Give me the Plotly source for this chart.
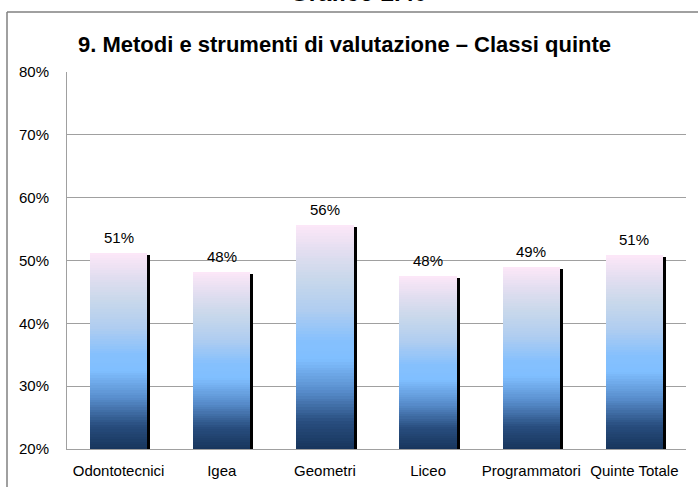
import plotly.graph_objects as go

# Categories and shares (fraction of respondents)
categories = ["Odontotecnici", "Igea", "Geometri", "Liceo", "Programmatori", "Quinte Totale"]
values = [0.512, 0.482, 0.557, 0.476, 0.490, 0.508]

y_ticks = [0.2, 0.3, 0.4, 0.5, 0.6, 0.7, 0.8]

chart_title = "9. Metodi e strumenti di valutazione \u2013 Classi quinte"
page_title = "Grafico 2.40"

FONT = "Arial, Liberation Sans, sans-serif"
W, H = 698, 487
ML, MR, MT, MB = 67, 12, 72, 38
plot_w = W - ML - MR
plot_h = H - MT - MB

y_min, y_max = 0.2, 0.8
bar_w = 0.555
n_cat = len(categories)
px_x = n_cat / plot_w            # data units per pixel (x)
px_y = (y_max - y_min) / plot_h  # data units per pixel (y)

# Vertical gradient (bottom -> top) used to fill each bar
stops = [
    (0.00, (23, 53, 92)),
    (0.12, (40, 77, 126)),
    (0.26, (88, 141, 204)),
    (0.40, (128, 191, 255)),
    (0.48, (133, 192, 253)),
    (0.62, (176, 205, 240)),
    (0.76, (201, 216, 235)),
    (0.88, (226, 222, 240)),
    (1.00, (253, 232, 248)),
]


def grad(t):
    for (t0, c0), (t1, c1) in zip(stops[:-1], stops[1:]):
        if t <= t1:
            f = (t - t0) / (t1 - t0) if t1 > t0 else 0
            return "rgb(%d,%d,%d)" % tuple(round(a + (b - a) * f) for a, b in zip(c0, c1))
    return "rgb(%d,%d,%d)" % stops[-1][1]


N = 80
xs, bases, heights, colors = [], [], [], []
for i, v in enumerate(values):
    seg = (v - y_min) / N
    for k in range(N):
        xs.append(i)
        bases.append(y_min + k * seg)
        heights.append(seg * 1.02 if k < N - 1 else seg)
        colors.append(grad((k + 0.5) / N))

fig = go.Figure()

# drop shadow behind each bar
fig.add_trace(go.Bar(
    x=list(range(n_cat)),
    y=[v - y_min - 2 * px_y for v in values],
    base=[y_min] * n_cat,
    width=bar_w,
    offset=-bar_w / 2 + 3 * px_x,
    marker=dict(color="black", line=dict(width=0)),
    hoverinfo="skip",
    showlegend=False,
))

# gradient-filled bars
fig.add_trace(go.Bar(
    x=xs, y=heights, base=bases, width=bar_w,
    marker=dict(color=colors, line=dict(width=0)),
    hoverinfo="skip", showlegend=False,
))

# value labels above the bars
value_labels = [
    dict(text=f"{v:.0%}", x=i, y=v, xref="x", yref="y",
         xanchor="center", yanchor="bottom", yshift=5, showarrow=False,
         font=dict(family=FONT, size=15, color="black"))
    for i, v in enumerate(values)
]

fig.update_layout(
    width=W, height=H,
    margin=dict(l=ML, r=MR, t=MT, b=MB, autoexpand=False),
    paper_bgcolor="white", plot_bgcolor="white",
    barmode="overlay", bargap=0,
    font=dict(family=FONT, size=15, color="black"),
    xaxis=dict(
        range=[-0.5, n_cat - 0.5],
        tickvals=list(range(n_cat)), ticktext=categories,
        showgrid=False, zeroline=False,
        showline=True, linecolor="#a0a0a0", linewidth=1,
        ticks="", ticklabelstandoff=8, automargin=False,
        tickfont=dict(family=FONT, size=15, color="black"),
        fixedrange=True,
    ),
    yaxis=dict(
        range=[y_min, y_max],
        tickvals=y_ticks, tickformat=".0%",
        showgrid=True, gridcolor="#a0a0a0", gridwidth=1,
        zeroline=False,
        showline=True, linecolor="#a0a0a0", linewidth=1,
        ticks="", ticklabelstandoff=14, automargin=False,
        tickfont=dict(family=FONT, size=15, color="black"),
        fixedrange=True,
    ),
    annotations=value_labels + [
        dict(text=f"<b>{chart_title}</b>", xref="paper", yref="paper",
             x=(344 - ML) / plot_w, y=(H - MB - 45) / plot_h,
             xanchor="center", yanchor="middle", showarrow=False,
             font=dict(family=FONT, size=22, color="black")),
        dict(text=f"<b>{page_title}</b>", xref="paper", yref="paper",
             x=(358 - ML) / plot_w, y=(H - MB - 8) / plot_h,
             xanchor="center", yanchor="bottom", showarrow=False,
             font=dict(family=FONT, size=24, color="black")),
    ],
    shapes=[
        # chart-area frame (top and left edges)
        dict(type="line", xref="paper", yref="paper",
             x0=(7 - ML) / plot_w, x1=(W + 5 - ML) / plot_w,
             y0=(H - MB - 12) / plot_h, y1=(H - MB - 12) / plot_h,
             line=dict(color="#808080", width=1.5)),
        dict(type="line", xref="paper", yref="paper",
             x0=(7 - ML) / plot_w, x1=(7 - ML) / plot_w,
             y0=(H - MB - 12) / plot_h, y1=(H - MB - H - 5) / plot_h,
             line=dict(color="#808080", width=1.5)),
    ],
)

fig.write_html("out.html")
